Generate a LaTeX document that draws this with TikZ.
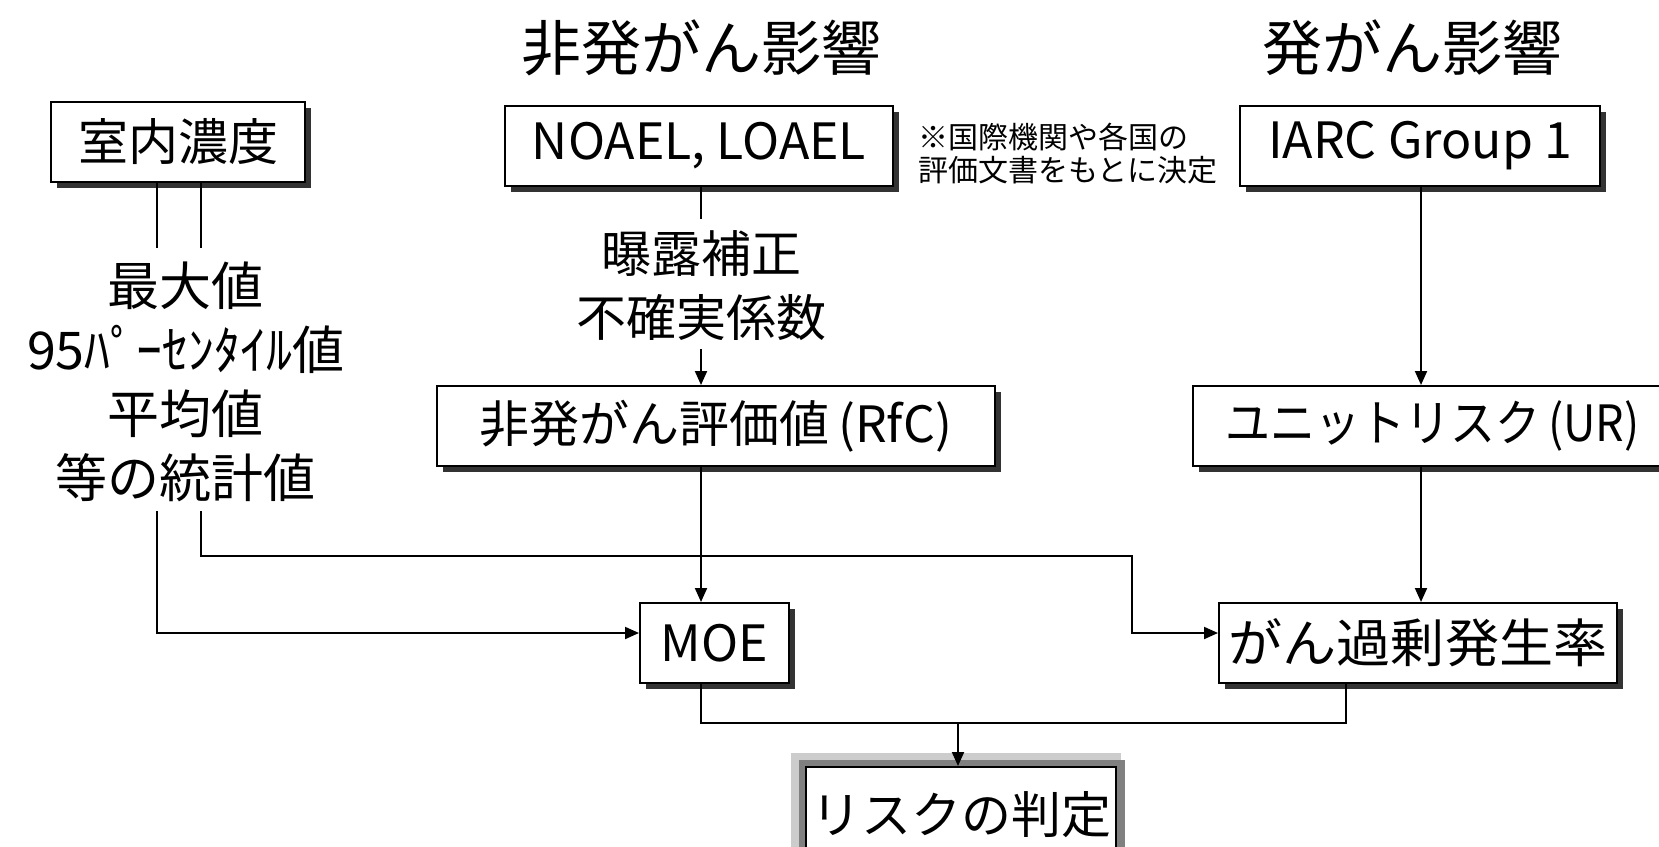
\documentclass[tikz,border=0pt]{standalone}
\usepackage{fontspec}
\setmainfont{Noto Sans CJK JP}
\usetikzlibrary{arrows.meta,shadows}
\begin{document}
\begin{tikzpicture}[x=0.5pt,y=-0.5pt,
  box/.style={draw, line width=1pt, fill=white, inner sep=0pt, minimum height=40pt,
    drop shadow={shadow xshift=3pt, shadow yshift=-3pt, fill=black!80, opacity=1}},
  conn/.style={line width=1pt},
  arr/.style={conn, -{Triangle[length=7pt,width=6pt]}},
  bigtxt/.style={font=\fontsize{25}{30}\selectfont},
  titletxt/.style={font=\fontsize{30}{36}\selectfont},
  notetxt/.style={font=\fontsize{15}{16.5}\selectfont, align=left, inner sep=0pt},
  stattxt/.style={font=\fontsize{26}{32}\selectfont, align=center, inner sep=0pt}]
\useasboundingbox (0,0) rectangle (1659,846);
\fill[white] (0,0) rectangle (1659,846);

% titles
\node[titletxt] (t1) at (701,48) {非発がん影響};
\node[titletxt] (t2) at (1412,48) {発がん影響};

% boxes
\node[box, bigtxt, minimum width=127pt] (conc) at (178,142) {室内濃度};
\node[box, bigtxt, minimum width=194pt] (noael) at (699,146) {NOAEL, LOAEL};
\node[box, bigtxt, minimum width=180pt] (iarc) at (1420,146) {IARC Group 1};
\node[box, bigtxt, minimum width=279pt] (rfc) at (716,426) {非発がん評価値\,(RfC)};
\node[box, bigtxt, minimum width=239.5pt] (ur) at (1432.5,426) {\scalebox{0.9}[1]{ユニットリスク\,(UR)}};
\node[box, bigtxt, minimum width=74.5pt] (moe) at (714.5,643) {MOE};
\node[box, font=\fontsize{26}{30}\selectfont, minimum width=199pt] (excess) at (1418,643) {\scalebox{1.04}[1]{がん過剰発生率}};

% risk box with grey halo
\fill[black!20] (791,753) rectangle (1121,900);
\fill[black!50] (799,760) rectangle (1125,900);
\node[draw, line width=1pt, fill=white, inner sep=0pt, minimum width=155pt, minimum height=66.5pt] (risk) at (961,833.5) {};
\node[bigtxt] (risktxt) at (961,815) {リスクの判定};

% note
\node[notetxt, anchor=west] (note) at (918,154) {※国際機関や各国の\\評価文書をもとに決定};

% texts
\node[bigtxt, align=center, inner sep=0pt] (adj) at (701,286) {曝露補正\\[2pt]不確実係数};
\node[stattxt] (stats) at (186,382) {最大値\\95ﾊﾟｰｾﾝﾀｲﾙ値\\平均値\\等の統計値};

% coordinates
\coordinate (c1a) at (157,248);
\coordinate (c2a) at (201,248);
\coordinate (s1) at (157,511);
\coordinate (s2) at (201,511);
\coordinate (adjtop) at (701,219);
\coordinate (adjbot) at (701,349);
\coordinate (bend1) at (201,556);
\coordinate (bend2) at (1132,556);
\coordinate (join) at (958,723);

% connectors
\draw[conn] (conc.south -| c1a) -- (c1a);
\draw[conn] (conc.south -| c2a) -- (c2a);
\draw[conn] (noael.south -| adjtop) -- (adjtop);
\draw[arr] (adjbot) -- (rfc.north -| adjbot);
\draw[arr] (iarc.south -| 1421,0) -- (ur.north -| 1421,0);
\draw[arr] (ur.south -| 1421,0) -- (excess.north -| 1421,0);
\draw[arr] (rfc.south -| 701,0) -- (moe.north -| 701,0);
\draw[arr] (s1) |- (moe.west |- 0,633);
\draw[arr] (s2) -- (bend1) -- (bend2) |- (excess.west |- 0,633);
\draw[conn] (moe.south -| 701,0) |- (join) -| (excess.south -| 1346,0);
\draw[arr] (join) -- (risk.north -| join);
\end{tikzpicture}
\end{document}
